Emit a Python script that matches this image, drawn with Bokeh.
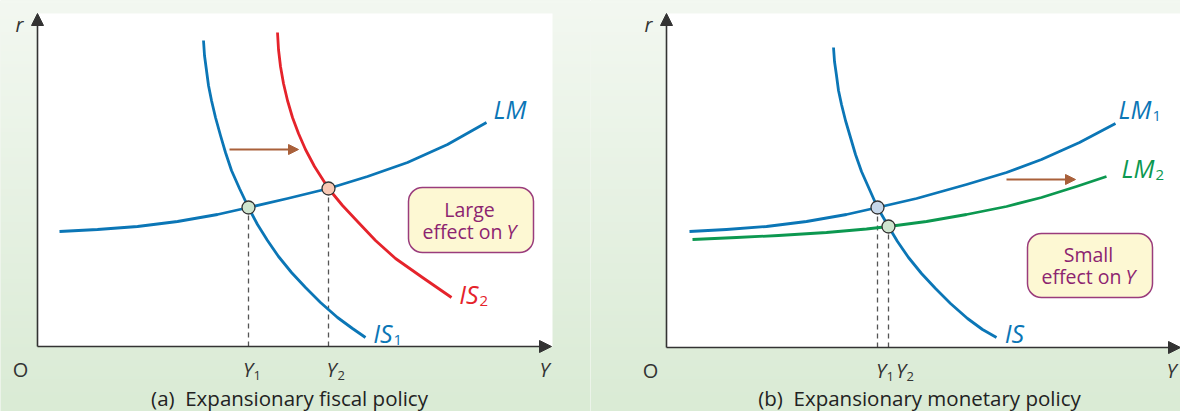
import numpy as np
from bokeh.plotting import figure
from bokeh.layouts import row
from bokeh.models import Arrow, NormalHead
from bokeh.core.properties import value
from bokeh.embed import file_html
from bokeh.resources import INLINE

# ---------------- data (output Y, interest rate r) ----------------
# Panel (a): expansionary fiscal policy
lm_a_y = [22, 60, 100, 140, 180, 211, 250, 291, 330, 370, 410, 449]
lm_a_r = [115, 117, 120, 125, 132, 139, 148, 158, 170, 184, 202, 224]
is1_a_y = [166, 167, 169, 171, 174, 178, 183, 188, 194, 202, 211, 220, 230, 241, 254, 268, 283, 300, 315, 328]
is1_a_r = [306, 291, 276, 261, 246, 229, 211, 194, 176, 158, 139, 122, 106, 90, 74, 59, 44, 29, 18, 9]
is2_a_y = [240, 241, 243, 246, 250, 255, 261, 268, 277, 291, 305, 320, 338, 358, 385, 414]
is2_a_r = [314, 297, 280, 263, 246, 229, 213, 197, 180, 158, 141, 125, 106, 88, 69, 49]
eq_a_y = [211, 291]
eq_a_r = [139, 158]
eq_a_fill = ["#cfe5cf", "#f8c9b5"]
shift_a = dict(y0=192, y1=261, r=197)

# Panel (b): expansionary monetary policy
is_b_y = [167, 168, 170, 172, 175, 179, 184, 189, 195, 203, 211, 222, 231, 242, 255, 269, 284, 301, 316, 330]
is_b_r = [300, 286, 272, 257, 243, 227, 210, 193, 176, 158, 140, 121, 106, 90, 74, 59, 44, 29, 18, 10]
lm1_b_y = [23, 60, 100, 140, 180, 211, 250, 300, 340, 375, 413, 449]
lm1_b_r = [116, 118, 121, 126, 133, 140, 149, 163, 175, 188, 205, 224]
lm2_b_y = [26, 70, 112, 160, 200, 222, 260, 300, 340, 375, 410, 440]
lm2_b_r = [108, 110, 112, 115, 118.5, 121, 126, 133, 141, 150, 161, 171]
eq_b_y = [211, 222]
eq_b_r = [140, 121]
eq_b_fill = ["#c6d7ea", "#cfe5cf"]
shift_b = dict(y0=340, y1=409, r=168)

BLUE = "#0b76b6"
RED = "#e5232b"
GREEN = "#0c9850"
BROWN = "#a9603a"
AXIS = "#333333"
PURPLE = "#8c2470"
BOXLINE = "#9a3c7c"
BOXFILL = "#fdf8d3"
FONT = value("Open Sans")


def gradient_image():
    n = 128
    img = np.empty((n, 1), dtype=np.uint32)
    v = img.view(dtype=np.uint8).reshape((n, 1, 4))
    top = np.array([243, 248, 241])
    bot = np.array([218, 235, 213])
    for i in range(n):
        t = i / (n - 1)  # 0 bottom -> 1 top
        c = bot + (top - bot) * t
        v[i, 0, 0:3] = c.astype(np.uint8)
        v[i, 0, 3] = 255
    return img


def make_panel(xr, yr):
    p = figure(width=590, height=411, x_range=xr, y_range=yr,
               output_backend="svg", toolbar_location=None,
               x_axis_type=None, y_axis_type=None, min_border=0,
               outline_line_color=None, border_fill_color="#e6f0e2",
               background_fill_color="#e6f0e2")
    p.image_rgba(image=[gradient_image()], x=xr[0], y=yr[0],
                 dw=xr[1] - xr[0], dh=yr[1] - yr[0])
    return p


def txt(p, x, y, s, size, color=AXIS, style="normal", align="center", yoff=0):
    p.text(x=[x], y=[y], text=[s], text_font=FONT, text_font_size=size,
           text_font_style=style, text_color=color, text_align=align,
           text_baseline="middle", y_offset=yoff)


def sub_label(p, x, y, main, sub, color, size, subsize, yoff):
    txt(p, x, y, main, size, color, "italic", "right")
    txt(p, x + 1, y, sub, subsize, color, "normal", "left", yoff)


def axes(p, xmax, ymax, white_right):
    p.quad(left=[0], right=[white_right], bottom=[0], top=[ymax], fill_color="white", line_color=None)
    p.add_layout(Arrow(end=NormalHead(size=12, fill_color=AXIS, line_color=AXIS),
                       x_start=0, y_start=0, x_end=0, y_end=ymax,
                       line_color=AXIS, line_width=1.6))
    p.add_layout(Arrow(end=NormalHead(size=12, fill_color=AXIS, line_color=AXIS),
                       x_start=0, y_start=0, x_end=xmax, y_end=0,
                       line_color=AXIS, line_width=1.6))


def shift_arrow(p, s):
    p.add_layout(Arrow(end=NormalHead(size=10, fill_color=BROWN, line_color=BROWN),
                       x_start=s["y0"], y_start=s["r"], x_end=s["y1"], y_end=s["r"],
                       line_color=BROWN, line_width=1.8))


def box(p, l, r, b, t):
    p.quad(left=[l], right=[r], bottom=[b], top=[t], fill_color=BOXFILL,
           line_color=BOXLINE, line_width=1.5, border_radius=14)


def x_tick_label(p, yc, sub_x, r, sub):
    txt(p, yc, r, "Y", "20px", AXIS, "italic", "center")
    txt(p, sub_x, r, sub, "13px", AXIS, "normal", "left", 6)


LABEL = "25px"
SUB = "15px"
BOXTXT = "19.5px"
CAPTION = "20.5px"

# ---------------- panel (a) ----------------
pa = make_panel((-37, 553), (-65, 346))
axes(pa, 514, 333, 515)
for xv, rv in zip(eq_a_y, eq_a_r):
    pa.line(x=[xv, xv], y=[0, rv], line_color="#555555", line_width=1.3, line_dash="5 4")
pa.line(x=lm_a_y, y=lm_a_r, line_color=BLUE, line_width=2.8, line_join="round")
pa.line(x=is1_a_y, y=is1_a_r, line_color=BLUE, line_width=2.8, line_join="round")
pa.line(x=is2_a_y, y=is2_a_r, line_color=RED, line_width=2.8, line_join="round")
pa.scatter(x=eq_a_y, y=eq_a_r, size=13, fill_color=eq_a_fill, line_color=AXIS, line_width=1.3)
shift_arrow(pa, shift_a)
box(pa, 371, 496, 94, 159)
txt(pa, 432, 137, "Large", BOXTXT, PURPLE)
txt(pa, 465, 115, "effect on", BOXTXT, PURPLE, "normal", "right")
txt(pa, 469, 115, "Y", BOXTXT, PURPLE, "italic", "left")
txt(pa, 489, 238, "LM", LABEL, BLUE, "italic", "right")
sub_label(pa, 441, 53, "IS", "2", RED, LABEL, SUB, 7)
sub_label(pa, 355, 14, "IS", "1", BLUE, LABEL, SUB, 7)
x_tick_label(pa, 210.5, 216, -23, "1")
x_tick_label(pa, 294, 300, -23, "2")
txt(pa, -17, -23, "O", "20px")
txt(pa, 507, -23, "Y", "20px", AXIS, "italic")
txt(pa, -18, 322, "r", "20px", AXIS, "italic")
txt(pa, 252, -51, "(a)\u00a0\u00a0Expansionary fiscal policy", CAPTION, "#222222")

# ---------------- panel (b) ----------------
pb = make_panel((-76, 514), (-64, 347))
axes(pb, 514, 334, 520)
for xv, rv in zip(eq_b_y, eq_b_r):
    pb.line(x=[xv, xv], y=[0, rv], line_color="#555555", line_width=1.3, line_dash="5 4")
pb.line(x=lm2_b_y, y=lm2_b_r, line_color=GREEN, line_width=2.8, line_join="round")
pb.line(x=lm1_b_y, y=lm1_b_r, line_color=BLUE, line_width=2.8, line_join="round")
pb.line(x=is_b_y, y=is_b_r, line_color=BLUE, line_width=2.8, line_join="round")
pb.scatter(x=eq_b_y, y=eq_b_r, size=13, fill_color=eq_b_fill, line_color=AXIS, line_width=1.3)
shift_arrow(pb, shift_b)
box(pb, 361, 486, 50, 114)
txt(pb, 422, 93, "Small", BOXTXT, PURPLE)
txt(pb, 455, 71, "effect on", BOXTXT, PURPLE, "normal", "right")
txt(pb, 459, 71, "Y", BOXTXT, PURPLE, "italic", "left")
sub_label(pb, 485, 239, "LM", "1", BLUE, LABEL, SUB, 7)
sub_label(pb, 488, 180, "LM", "2", GREEN, LABEL, SUB, 7)
txt(pb, 348, 15, "IS", LABEL, BLUE, "italic")
x_tick_label(pb, 214.5, 220, -23, "1")
x_tick_label(pb, 234.5, 240, -23, "2")
txt(pb, -16, -23, "O", "20px")
txt(pb, 505, -23, "Y", "20px", AXIS, "italic")
txt(pb, -18, 323, "r", "20px", AXIS, "italic")
txt(pb, 253, -50, "(b)\u00a0\u00a0Expansionary monetary policy", CAPTION, "#222222")

layout = row(pa, pb)
open("out.html", "w").write(file_html(layout, INLINE))
